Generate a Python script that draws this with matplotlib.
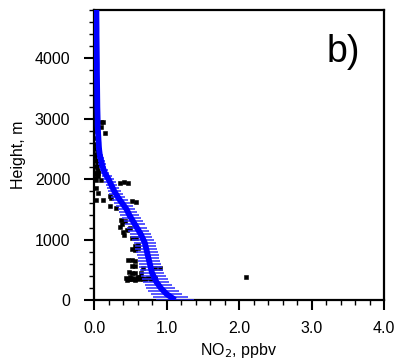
import matplotlib
matplotlib.use('Agg')
import matplotlib.pyplot as plt
from matplotlib.ticker import MultipleLocator

plt.rcParams['font.family'] = ['Liberation Sans', 'DejaVu Sans']

# model profile (blue): height, mean NO2, spread
model_h = [0, 50, 100, 150, 200, 250, 300, 350, 400, 450,
           500, 550, 600, 650, 700, 750, 800, 850, 900, 950,
           1000, 1050, 1100, 1150, 1200, 1250, 1300, 1350, 1400, 1450,
           1500, 1550, 1600, 1650, 1700, 1750, 1800, 1850, 1900, 1950,
           2000, 2050, 2100, 2150, 2200, 2250, 2300, 2350, 2400, 2450,
           2500, 2550, 2600, 2650, 2700, 2750, 2800, 2850, 2900, 2950,
           3000, 3100, 3200, 3300, 3400, 3500, 3600, 3700, 3800, 3900,
           4000, 4100, 4200, 4300, 4400, 4500, 4600, 4700, 4800]
model_no2 = [1.12, 1.06, 1.00, 0.96, 0.92, 0.89, 0.86, 0.84, 0.82, 0.80,
             0.79, 0.78, 0.77, 0.76, 0.75, 0.74, 0.73, 0.72, 0.71, 0.70,
             0.68, 0.66, 0.64, 0.615, 0.59, 0.565, 0.54, 0.515, 0.49, 0.47,
             0.45, 0.42, 0.39, 0.36, 0.33, 0.305, 0.28, 0.26, 0.24, 0.22,
             0.20, 0.175, 0.15, 0.135, 0.12, 0.11, 0.10, 0.09, 0.08, 0.075,
             0.07, 0.067, 0.065, 0.062, 0.06, 0.057, 0.055, 0.052, 0.05, 0.05,
             0.05, 0.048, 0.046, 0.045, 0.044, 0.043, 0.042, 0.041, 0.04, 0.04,
             0.039, 0.038, 0.037, 0.036, 0.035, 0.035, 0.034, 0.033, 0.033]
model_sd = [0.26, 0.24, 0.22, 0.21, 0.20, 0.19, 0.18, 0.175, 0.17, 0.165,
            0.16, 0.16, 0.155, 0.155, 0.15, 0.15, 0.15, 0.15, 0.15, 0.15,
            0.15, 0.145, 0.14, 0.14, 0.14, 0.135, 0.13, 0.13, 0.13, 0.125,
            0.12, 0.115, 0.11, 0.105, 0.10, 0.095, 0.09, 0.085, 0.08, 0.08,
            0.08, 0.07, 0.06, 0.055, 0.05, 0.05, 0.05, 0.045, 0.04, 0.04,
            0.04, 0.035, 0.03, 0.03, 0.03, 0.03, 0.03, 0.025, 0.02, 0.02,
            0.02, 0.02, 0.02, 0.02, 0.02, 0.02, 0.02, 0.02, 0.02, 0.02,
            0.02, 0.02, 0.02, 0.02, 0.02, 0.02, 0.02, 0.02, 0.02]

# observations (black dots)
obs_no2 = [0.44, 0.47, 0.50, 0.53, 0.56, 0.59, 0.62, 0.65, 0.68, 0.71,
           0.74, 0.50, 0.57, 0.63, 0.78, 0.84, 0.46, 0.52, 0.60,
           0.48, 0.52, 0.56, 0.65, 0.67, 0.84, 0.91,
           0.47, 0.52, 0.57, 0.53, 0.56, 0.52, 0.57, 0.61,
           0.56, 0.60, 0.58, 0.52, 0.42, 0.40, 0.45, 0.50, 0.36, 0.38,
           0.37, 0.43, 0.22, 0.30, 0.24, 0.12, 0.03, 0.52, 0.58,
           0.22, 0.06, 0.03, 0.36, 0.41, 0.47, 0.10, 0.03, 0.01, 0.06,
           2.09,
           0.03, 0.02, 0.05, 0.03, 0.06, 0.04, 0.02, 0.05, 0.03, 0.04,
           0.02, 0.03, 0.05, 0.02, 0.04, 0.03, 0.05, 0.03, 0.06, 0.04,
           0.09, 0.12, 0.15, 0.10, 0.05, 0.08]
obs_h = [360, 355, 350, 360, 345, 365, 350, 360, 345, 355,
         370, 380, 330, 380, 350, 365, 335, 340, 375,
         460, 450, 440, 450, 530, 530, 530,
         660, 670, 650, 560, 570, 850, 830, 860,
         900, 910, 1020, 1030, 1080, 1130, 1160, 1190, 1215, 1250,
         1330, 1300, 1550, 1530, 1690, 1660, 1660, 1640, 1620,
         1715, 1775, 1860, 1940, 1950, 1930, 1990, 2080, 2100, 2110,
         380,
         1980, 2020, 2060, 2100, 2140, 2180, 2220, 2260, 2300, 2340,
         2380, 2420, 2460, 2500, 2540, 2580, 2620, 2680, 2740, 2800,
         2870, 2940, 2770, 2940, 2240, 2360]

fig = plt.figure(figsize=(3.99, 3.61), dpi=100)
ax = fig.add_axes([94 / 399, 61 / 361, 290 / 399, 290 / 361])

ax.plot(obs_no2, obs_h, 's', color='black', markersize=2.3, markeredgewidth=0.4, zorder=2)
ax.errorbar(model_no2, model_h, xerr=model_sd, fmt='none', ecolor='#2a2aff',
            elinewidth=1.1, capsize=0, zorder=3)
ax.plot(model_no2, model_h, '-', color='#0000ff', lw=4.2, solid_capstyle='butt', zorder=4)

ax.set_xlim(0, 4)
ax.set_ylim(0, 4800)
ax.xaxis.set_minor_locator(MultipleLocator(0.2))
ax.yaxis.set_major_locator(MultipleLocator(1000))
ax.yaxis.set_minor_locator(MultipleLocator(200))
ax.set_xticks([0, 1, 2, 3, 4])
ax.set_xticklabels(['0.0', '1.0', '2.0', '3.0', '4.0'])

ax.tick_params(which='major', direction='out', length=7, width=1.5, labelsize=11.5, pad=8,
               top=False, right=False)
ax.tick_params(which='minor', direction='out', length=3.5, width=1.0, top=False, right=False)
ax.tick_params(axis='y', which='major', pad=10)
for s in ax.spines.values():
    s.set_linewidth(1.6)

ax.set_xlabel('NO$_2$, ppbv', fontsize=11.5, labelpad=4)
ax.set_ylabel('Height, m', fontsize=11.5, labelpad=6)
ax.text(0.86, 0.855, 'b)', transform=ax.transAxes, fontsize=27, ha='center', va='center')

fig.savefig('out.png', dpi=100)
